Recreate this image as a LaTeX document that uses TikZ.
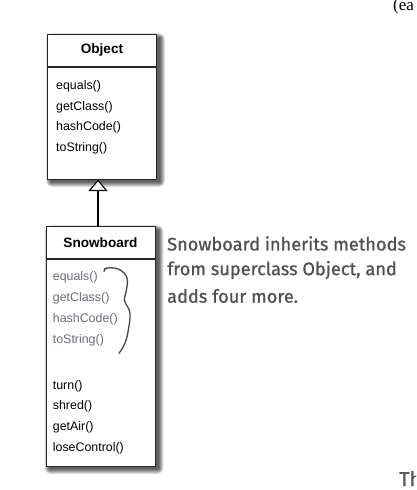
\documentclass[tikz,border=0pt]{standalone}
\usepackage{fontspec}
\setmainfont{Liberation Sans}
\newfontfamily\umlfont{Liberation Sans}
\newfontfamily\handfont{Fira Sans}[FakeBold=0.9]
\newfontfamily\serifcut{Liberation Serif}
\definecolor{inh}{RGB}{105,110,125}
\definecolor{handgray}{RGB}{80,80,80}
\tikzset{
  boxhead/.style={draw=black!85, line width=0.9pt, fill=white, minimum width=109pt, minimum height=32pt, inner sep=0pt, anchor=north west, font=\umlfont\fontsize{13.6}{16}\selectfont\bfseries},
  boxbody/.style={draw=black!85, line width=0.9pt, fill=white, inner sep=0pt, anchor=north west, minimum width=109pt},
  meth/.style={anchor=west, inner sep=0pt, font=\umlfont\fontsize{12.4}{14}\selectfont, text=black},
  inhmeth/.style={meth, text=inh},
  hand/.style={anchor=west, inner sep=0pt, font=\handfont\fontsize{18.2}{20}\selectfont, text=handgray},
  genarrow/.style={line width=1.8pt, draw=black},
  brace/.style={draw=black!72, line width=1.3pt, line cap=round}
}
\newcommand{\softshadow}[4]{%
  \foreach \r in {6,5,4,3,2,1,0}{%
    \fill[black, opacity=0.13, rounded corners=\r pt]
      ({#1+4-\r*0.8},{#2+4-\r*0.8}) rectangle ({#3+4+\r*0.8},{#4+4+\r*0.8});
  }%
}
\begin{document}
\begin{tikzpicture}[x=1pt,y=-1pt]
\useasboundingbox (0,0) rectangle (416,490);
\clip (0,0) rectangle (416,490);
% shadows
\softshadow{47}{34}{156}{178}
\softshadow{45.5}{226}{154.5}{465}
% Object class
\node[boxhead] (objhead) at (47,34) {Object};
\node[boxbody, minimum height=112pt] (objbody) at (objhead.south west) {};
\node[meth] (o1) at (56,86.7) {equals()};
\node[meth] (o2) at (56,107) {getClass()};
\node[meth] (o3) at (56,127.3) {hashCode()};
\node[meth] (o4) at (56,148) {toString()};
% Snowboard class
\node[boxhead] (snowhead) at (45.5,226) {Snowboard};
\node[boxbody, minimum height=207pt] (snowbody) at (snowhead.south west) {};
\node[inhmeth] (s1) at (52.7,277.3) {equals()};
\node[inhmeth] (s2) at (52.7,298) {getClass()};
\node[inhmeth] (s3) at (52.7,319) {hashCode()};
\node[inhmeth] (s4) at (52.7,340.5) {toString()};
\node[meth] (s5) at (52.7,386) {turn()};
\node[meth] (s6) at (52.7,406.7) {shred()};
\node[meth] (s7) at (52.7,427.5) {getAir()};
\node[meth] (s8) at (52.7,448.3) {loseControl()};
% generalization arrow
\coordinate (tip) at (98,180.5);
\coordinate (tbase) at (98,190.5);
\draw[genarrow] (snowhead.north -| tip) -- (tbase);
\draw[line width=1.1pt, fill=white, line join=miter] (tip) -- (89.5,190.5) -- (106.5,190.5) -- cycle;
% brace
\draw[brace] (104,271.5) .. controls (104.3,268.8) .. (107,268);
\draw[brace] plot[smooth, tension=0.6] coordinates {(105,269) (110,267.7) (118.3,269) (124.3,273.3) (127.3,279) (127,286.7) (125.7,293.3) (124.3,300) (126,304.3) (129.3,310) (130,318.3) (128.3,330) (126.7,338.3) (123.3,346.7) (119,353.3)};
% handwritten note
\node[hand] (n1) at (167,243.5) {Snowboard inherits methods};
\node[hand] (n2) at (167,270) {from superclass Object, and};
\node[hand] (n3) at (167,296) {adds four more.};
% cut fragments at the edges
\node[anchor=base west, inner sep=0pt, font=\serifcut\fontsize{17}{19}\selectfont] (cut1) at (393,10) {(ea};
\node[anchor=base west, inner sep=0pt, font=\handfont\fontsize{20}{22}\selectfont, text=black!65] (cut2) at (399,486) {Th};
\end{tikzpicture}
\end{document}
